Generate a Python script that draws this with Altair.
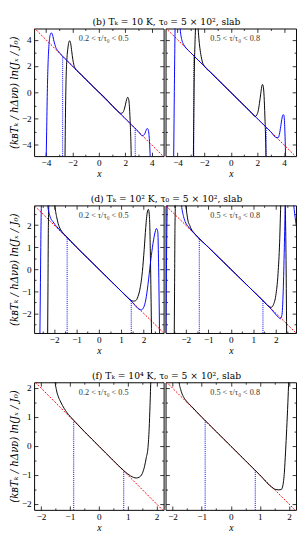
import altair as alt
import pandas as pd

# ---------------- data ----------------
row_titles = [
    "(b) Tₖ = 10 K, τ₀ = 5 × 10², slab",
    "(d) Tₖ = 10² K, τ₀ = 5 × 10², slab",
    "(f) Tₖ = 10⁴ K, τ₀ = 5 × 10², slab",
]
bin_labels = ["0.2 < τ/τ₀ < 0.5", "0.5 < τ/τ₀ < 0.8"]
y_title = "(kʙTₖ / hΔνᴅ) ln(Jₓ / J₀)"
x_title = "x"

x_domains = [[-4.9, 4.9], [-2.9, 2.9], [-2.24, 2.24]]
y_domains = [[-4.85, 4.85], [-2.9, 2.9], [-2.2, 2.2]]
major_ticks = [[-4, -2, 0, 2, 4], [-2, -1, 0, 1, 2], [-2, -1, 0, 1, 2]]
minor_ticks = [[-3, -1, 1, 3],
               [-2.5, -1.5, -0.5, 0.5, 1.5, 2.5],
               [-2.5, -1.5, -0.5, 0.5, 1.5, 2.5]]

# red dashed reference line
red_x = [-6, 6]
red_y = [6, -6]

# row 1 (T = 10 K)
r1l_black_x = [-2.57, -2.53, -2.48, -2.42, -2.35, -2.27, -2.2, -2.13, -2.05, -1.97, -1.88, -1.78, -1.6, -1.0, -0.5, 0.0, 0.5, 1.0, 1.5, 1.65, 1.8, 1.92, 2.02, 2.1, 2.18, 2.25, 2.32, 2.38, 2.43, 2.47]
r1l_black_y = [-6, -2, 1, 2.5, 3.3, 3.8, 3.92, 3.7, 3.1, 2.5, 2.05, 1.8, 1.6, 1.0, 0.5, 0.02, -0.45, -1.0, -1.5, -1.6, -1.55, -1.3, -0.9, -0.55, -0.38, -0.5, -1.2, -2.5, -4, -6]
r1l_blue_x = [-4.0, -3.95, -3.9, -3.85, -3.78, -3.7, -3.6, -3.5, -3.4, -3.25, -3.1, -2.95, -2.5, -2.0, -1.0, 0.0, 1.0, 2.0, 2.5, 3.0, 3.3, 3.45, 3.55, 3.65, 3.72, 3.8, 3.86, 3.92]
r1l_blue_y = [-6, -3, 0, 2, 3.5, 4.3, 4.52, 4.35, 3.9, 3.4, 3.15, 2.97, 2.5, 2.0, 1.0, 0.0, -1.0, -2.0, -2.5, -3.0, -3.3, -3.2, -2.95, -2.75, -2.8, -3.3, -4.3, -6]
r1r_black_x = [-2.82, -2.78, -2.74, -2.68, -2.6, -2.52, -2.45, -2.38, -2.3, -2.2, -2.1, -2.0, -1.5, -1.0, 0.0, 1.0, 1.5, 1.85, 1.95, 2.05, 2.15, 2.25, 2.32, 2.38, 2.44, 2.5, 2.56, 2.62, 2.66]
r1r_black_y = [-6, -2, 1.5, 4, 5.5, 5.6, 4.8, 3.9, 3.2, 2.6, 2.2, 2.02, 1.5, 1.0, 0.0, -1.0, -1.5, -1.83, -1.72, -1.45, -0.85, -0.1, 0.4, 0.6, 0.45, -0.3, -1.8, -3.8, -6]
r1r_blue_x = [-4.3, -4.26, -4.22, -4.18, -4.1, -3.95, -3.85, -3.78, -3.68, -3.55, -3.4, -3.0, -2.0, -1.0, 0.0, 1.0, 2.0, 3.0, 3.45, 3.55, 3.65, 3.75, 3.85, 3.93, 3.99, 4.05, 4.1, 4.15]
r1r_blue_y = [-6, -2, 2, 5, 6.5, 6.5, 5.5, 4.6, 4.0, 3.65, 3.42, 3.0, 2.0, 1.0, 0.0, -1.0, -2.0, -3.0, -3.45, -3.45, -3.2, -2.6, -1.95, -1.7, -1.75, -2.6, -4.2, -6]

# row 2 (T = 10^2 K)
r2l_black_x = [-2.3, -2.28, -2.26, -2.22, -2.15, -2.05, -1.97, -1.88, -1.8, -1.7, -1.6, -1.46, -1.0, -0.5, 0.0, 0.5, 1.0, 1.35, 1.45, 1.55, 1.65, 1.75, 1.85, 1.95, 2.03, 2.1, 2.17, 2.22, 2.27, 2.31, 2.34, 2.37]
r2l_black_y = [-4, -1, 2, 3.5, 4.5, 4.0, 2.9, 2.33, 2.0, 1.78, 1.64, 1.5, 1.0, 0.5, 0.0, -0.5, -1.0, -1.35, -1.42, -1.45, -1.43, -1.25, -0.85, -0.1, 0.9, 1.9, 2.6, 2.72, 2.3, 0.5, -1.5, -4]
r2l_blue_x = [-2.65, -2.62, -2.59, -2.55, -2.45, -2.35, -2.3, -2.2, -2.05, -1.9, -1.75, -1.6, -1.0, -0.5, 0.0, 0.5, 1.0, 1.5, 1.65, 1.8, 1.9, 2.0, 2.1, 2.2, 2.3, 2.4, 2.5, 2.58, 2.64, 2.67, 2.7, 2.73]
r2l_blue_y = [-4, -1, 2, 3.6, 4.5, 3.8, 3.0, 2.45, 2.15, 1.95, 1.78, 1.62, 1.0, 0.5, 0.0, -0.5, -1.0, -1.5, -1.68, -1.82, -1.85, -1.75, -1.4, -0.7, 0.2, 1.0, 1.6, 1.85, 1.7, 0.5, -1.5, -4]
r2r_black_x = [-2.52, -2.5, -2.48, -2.44, -2.3, -2.1, -2.0, -1.9, -1.82, -1.76, -1.65, -1.0, -0.5, 0.0, 0.5, 1.0, 1.45, 1.6, 1.7, 1.8, 1.9, 2.0, 2.1, 2.17, 2.22, 2.28, 2.38, 2.43, 2.46, 2.49]
r2r_black_y = [-4, -1, 2, 3.5, 4.5, 3.6, 2.9, 2.19, 1.98, 1.83, 1.67, 1.0, 0.5, 0.0, -0.5, -1.0, -1.45, -1.62, -1.7, -1.73, -1.6, -1.2, -0.2, 1.2, 2.9, 4.0, 4.0, 2.5, 0, -4]
r2r_blue_x = [-2.9, -2.87, -2.84, -2.8, -2.5, -2.25, -2.19, -2.1, -2.0, -1.9, -1.8, -1.5, -1.0, 0.0, 1.0, 1.4, 1.6, 1.8, 1.95, 2.1, 2.2, 2.27, 2.33, 2.38, 2.42, 2.5, 2.65, 2.8, 2.88, 2.96]
r2r_blue_y = [-4, -1, 2, 3.5, 4.5, 3.6, 2.9, 2.4, 2.1, 1.95, 1.82, 1.5, 1.0, 0.0, -1.0, -1.4, -1.6, -1.82, -2.0, -2.17, -2.25, -2.1, -1.0, 1.0, 2.9, 4.5, 4.5, 2.9, 2.2, 1.7]

# row 3 (T = 10^4 K)
r3l_black_x = [-1.53, -1.52, -1.47, -1.4, -1.32, -1.2, -1.1, -1.0, -0.85, -0.5, 0.0, 0.5, 0.9, 1.0, 1.1, 1.2, 1.3, 1.4, 1.5, 1.58, 1.64, 1.7, 1.74, 1.77, 1.8, 1.82]
r3l_black_y = [2.5, 2.3, 1.95, 1.7, 1.52, 1.3, 1.15, 1.03, 0.87, 0.5, 0.0, -0.5, -0.88, -0.96, -1.03, -1.08, -1.1, -1.07, -0.95, -0.7, -0.4, -0.05, 0.6, 1.4, 2.3, 2.6]
r3r_black_x = [-1.8, -1.78, -1.72, -1.65, -1.56, -1.45, -1.35, -1.0, -0.5, 0.0, 0.5, 1.0, 1.45, 1.55, 1.65, 1.73, 1.79, 1.84, 1.88, 1.92, 1.96, 1.99, 2.01]
r3r_black_y = [2.5, 2.25, 1.95, 1.75, 1.6, 1.47, 1.37, 1.0, 0.5, 0.0, -0.5, -1.0, -1.45, -1.5, -1.51, -1.5, -1.35, -0.9, -0.2, 0.6, 1.5, 2.25, 2.6]

# blue dotted markers (x position, top end)
r1l_dot_x, r1l_dot_top = [-2.74, 2.75], [2.74, -2.75]
r1r_dot_x, r1r_dot_top = [-2.78, 2.66], [2.78, -2.66]
r2l_dot_x, r2l_dot_top = [-1.42, 1.45], [1.42, -1.45]
r2r_dot_x, r2r_dot_top = [-1.4, 1.43], [1.4, -1.43]
r3l_dot_x, r3l_dot_top = [-0.87, 0.86], [0.87, -0.86]
r3r_dot_x, r3r_dot_top = [-0.88, 0.84], [0.88, -0.84]

panels = [
    [dict(black=(r1l_black_x, r1l_black_y), blue=(r1l_blue_x, r1l_blue_y), dots=(r1l_dot_x, r1l_dot_top)),
     dict(black=(r1r_black_x, r1r_black_y), blue=(r1r_blue_x, r1r_blue_y), dots=(r1r_dot_x, r1r_dot_top))],
    [dict(black=(r2l_black_x, r2l_black_y), blue=(r2l_blue_x, r2l_blue_y), dots=(r2l_dot_x, r2l_dot_top)),
     dict(black=(r2r_black_x, r2r_black_y), blue=(r2r_blue_x, r2r_blue_y), dots=(r2r_dot_x, r2r_dot_top))],
    [dict(black=(r3l_black_x, r3l_black_y), blue=None, dots=(r3l_dot_x, r3l_dot_top)),
     dict(black=(r3r_black_x, r3r_black_y), blue=None, dots=(r3r_dot_x, r3r_dot_top))],
]

# ---------------- styling ----------------
SERIF = "Liberation Serif"
WIDE = "DejaVu Serif"
H = 132
WIDTHS = [134, 135]


def panel(row, col):
    W = WIDTHS[col]
    xd, yd = x_domains[row], y_domains[row]
    xs = alt.Scale(domain=xd, nice=False, zero=False)
    ys = alt.Scale(domain=yd, nice=False, zero=False)
    red_df = pd.DataFrame({"x": red_x, "y": red_y})
    p = panels[row][col]

    x_lab = alt.Axis(values=major_ticks[row], tickSize=0, domain=False, grid=False,
                     labelPadding=2, title=x_title, titleFontStyle="italic",
                     titleFontSize=10, titlePadding=2, labelFlush=False)
    if col == 0:
        y_lab = alt.Axis(values=major_ticks[row], tickSize=0, domain=False, grid=False,
                         labelPadding=3, title=y_title, titleFontStyle="italic", titleFont=WIDE,
                         titleFontSize=10.5, titlePadding=1.5, minExtent=14, maxExtent=14)
    else:
        y_lab = None

    layers = []
    layers.append(
        alt.Chart(red_df).mark_line(color="#ff0000", strokeDash=[2, 1.5], strokeWidth=1, clip=True)
        .encode(x=alt.X("x:Q", scale=xs, axis=x_lab), y=alt.Y("y:Q", scale=ys, axis=y_lab))
    )

    def tick_layer(vals, size, xo, yo):
        return alt.Chart(red_df).mark_line(opacity=0, clip=True).encode(
            x=alt.X("x:Q", scale=xs, axis=alt.Axis(orient=xo, offset=-H, values=vals, tickSize=size,
                                                    labels=False, domain=False, grid=False, title=None,
                                                    tickColor="black", tickWidth=0.8)),
            y=alt.Y("y:Q", scale=ys, axis=alt.Axis(orient=yo, offset=-W, values=vals, tickSize=size,
                                                    labels=False, domain=False, grid=False, title=None,
                                                    tickColor="black", tickWidth=0.8)),
        )

    mj, mn = major_ticks[row], minor_ticks[row]
    layers.append(tick_layer(mj, 4, "top", "right"))
    layers.append(tick_layer(mj, 4, "bottom", "left"))
    layers.append(tick_layer(mn, 2, "top", "right"))
    layers.append(tick_layer(mn, 2, "bottom", "left"))

    dx, dtop = p["dots"]
    dot_df = pd.DataFrame({"x": dx, "top": dtop, "bottom": [yd[0]] * len(dx)})
    layers.append(
        alt.Chart(dot_df).mark_rule(color="#0000ff", strokeDash=[1, 1], strokeWidth=1)
        .encode(x=alt.X("x:Q", scale=xs, axis=None), y=alt.Y("bottom:Q", scale=ys, axis=None), y2="top:Q")
    )

    def curve(xy, color):
        df = pd.DataFrame({"x": xy[0], "y": xy[1], "i": range(len(xy[0]))})
        return alt.Chart(df).mark_line(color=color, strokeWidth=1, clip=True, interpolate="monotone").encode(
            x=alt.X("x:Q", scale=xs, axis=None), y=alt.Y("y:Q", scale=ys, axis=None), order="i:Q")

    layers.append(curve(p["black"], "#000000"))
    if p["blue"] is not None:
        layers.append(curve(p["blue"], "#0000ff"))

    lab_df = pd.DataFrame({"t": [bin_labels[col]]})
    layers.append(
        alt.Chart(lab_df).mark_text(font=SERIF, fontSize=8.5, color="#333333", baseline="middle", align="center")
        .encode(text="t:N", x=alt.value(72), y=alt.value(10))
    )

    return alt.layer(*layers).resolve_axis(x="independent", y="independent").properties(width=W, height=H)


rows = []
for r in range(3):
    rows.append(
        alt.hconcat(panel(r, 0), panel(r, 1), spacing=0,
                    title=alt.TitleParams(row_titles[r], anchor="middle", fontSize=9.5, font=WIDE,
                                          fontWeight="normal", offset=1, dx=14))
    )

chart = (
    alt.vconcat(*rows, spacing=15)
    .properties(padding={"left": 0, "top": 0, "right": 0, "bottom": 0})
    .configure_view(stroke="black", strokeWidth=1)
    .configure_axis(labelFont=SERIF, labelFontSize=9.5, titleFont=SERIF, titleFontWeight="normal",
                    labelColor="black", titleColor="black")
    .configure_title(font=WIDE, color="black")
)

chart.save("out.html", embed_options={"renderer": "svg", "actions": False})
